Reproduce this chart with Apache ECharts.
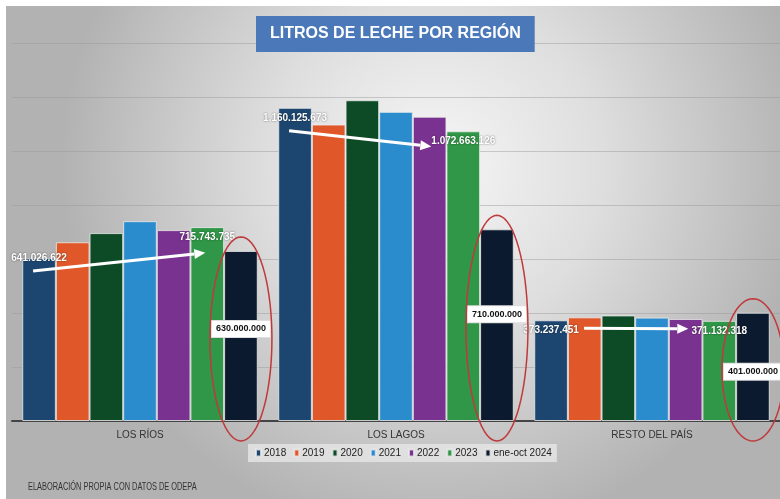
<!DOCTYPE html>
<html>
<head>
<meta charset="utf-8">
<script src="https://cdn.jsdelivr.net/npm/echarts@6/dist/echarts.min.js"></script>
<style>
  html, body { margin: 0; padding: 0; background: #fff; }
  #chart { width: 780px; height: 499px; }
</style>
</head>
<body>
<div id="chart"></div>
<script>
// categorias y años
var regiones = ['LOS RÍOS', 'LOS LAGOS', 'RESTO DEL PAÍS'];
var anios = ['2018', '2019', '2020', '2021', '2022', '2023', 'ene-oct 2024'];

// litros por año
var litros2018 = [604000000, 1160000000, 373000000];
var litros2019 = [662000000, 1098000000, 384000000];
var litros2020 = [696000000, 1188000000, 391000000];
var litros2021 = [740000000, 1145000000, 383000000];
var litros2022 = [707000000, 1127000000, 378000000];
var litros2023 = [718000000, 1073000000, 371000000];
var litros2024 = [630000000, 710000000, 401000000];

// anotaciones de tendencia
var tendInicio = [641026622, 1160125673, 373237451];
var tendFin = [715743735, 1072663126, 371132318];
var tendInicioTxt = ['641.026.622', '1.160.125.673', '373.237.451'];
var tendFinTxt = ['715.743.735', '1.072.663.126', '371.132.318'];
var estimado2024Txt = ['630.000.000', '710.000.000', '401.000.000'];

var serieDatos = [litros2018, litros2019, litros2020, litros2021, litros2022, litros2023, litros2024];
var colores = ['#1c4670', '#e0582a', '#0d4b26', '#2a8ccc', '#7a3290', '#2f9747', '#0b1a2e'];

// donde termina cada flecha respecto a sus etiquetas (px)
var flechaAjuste = [
  { sx: -6, sy: 13, ex: -2, ey: 15, finBarra: 5 },
  { sx: -6, sy: 13, ex: -32, ey: 5, finBarra: 5 },
  { sx: 33, sy: -2, ex: -31, ey: -2, finBarra: 5 }
];
var etiqueta2024Offset = [[0, -7], [0, -11], [0, 5]];

var chart = echarts.init(document.getElementById('chart'));
var catGap = 0.08;

var series = serieDatos.map(function (d, i) {
  var s = {
    name: anios[i],
    type: 'bar',
    data: d,
    barGap: '0%',
    barCategoryGap: (catGap * 100) + '%',
    itemStyle: { color: colores[i], borderColor: 'rgba(235,235,235,0.8)', borderWidth: 1 },
    z: 3
  };
  if (i === 6) {
    s.data = d.map(function (v, k) {
      return {
        value: v,
        label: {
          show: true,
          position: 'inside',
          offset: etiqueta2024Offset[k],
          formatter: estimado2024Txt[k],
          backgroundColor: '#fff',
          color: '#111',
          fontWeight: 'bold',
          fontSize: 9,
          fontFamily: 'Liberation Sans',
          padding: [4, 4, 3, 4],
          borderColor: '#ddd',
          borderWidth: 1
        }
      };
    });
  }
  return s;
});

chart.setOption({
  backgroundColor: '#ffffff',
  animation: false,
  title: {
    text: 'LITROS DE LECHE POR REGIÓN',
    left: 256,
    top: 16,
    padding: [10, 14, 10, 14],
    backgroundColor: '#4a78b8',
    textStyle: { color: '#fff', fontSize: 16, fontWeight: 'bold', fontFamily: 'Liberation Sans' }
  },
  legend: {
    data: anios,
    left: 248,
    top: 444,
    icon: 'rect',
    itemWidth: 5,
    itemHeight: 7,
    itemGap: 7,
    padding: [4, 5, 4, 7],
    backgroundColor: 'rgba(228,228,228,0.85)',
    textStyle: { fontSize: 10, color: '#222', fontFamily: 'Liberation Sans', padding: [0, 0, 0, -2] }
  },
  grid: { left: 12, top: 43, width: 771, height: 378 },
  xAxis: {
    type: 'category',
    data: regiones,
    axisTick: { show: false },
    axisLine: { lineStyle: { color: '#444', width: 2 } },
    axisLabel: { color: '#333', fontSize: 10, margin: 9, fontFamily: 'Liberation Sans' }
  },
  yAxis: {
    type: 'value',
    min: 0,
    max: 1400000000,
    interval: 200000000,
    axisLabel: { show: false },
    axisLine: { show: false },
    axisTick: { show: false },
    splitLine: { lineStyle: { color: 'rgba(150,150,150,0.45)', width: 1 } }
  },
  series: series
});

function xBarra(region, anio) {
  var c = chart.convertToPixel({ xAxisIndex: 0 }, regiones[region]);
  var banda = chart.convertToPixel({ xAxisIndex: 0 }, regiones[1]) - chart.convertToPixel({ xAxisIndex: 0 }, regiones[0]);
  var ancho = banda * (1 - catGap) / anios.length;
  return c - banda * (1 - catGap) / 2 + ancho * (anio + 0.5);
}
function yValor(v) {
  return chart.convertToPixel({ yAxisIndex: 0 }, v);
}

var graficos = [
  {
    type: 'rect', z: -10, silent: true,
    shape: { x: 6, y: 6, width: 780, height: 499 },
    style: {
      fill: new echarts.graphic.RadialGradient(0.55, 0.32, 0.75, [
        { offset: 0, color: '#f6f6f6' },
        { offset: 0.45, color: '#dedede' },
        { offset: 1, color: '#b2b2b2' }
      ])
    }
  },
  {
    type: 'text', x: 28, y: 482, scaleX: 0.74, silent: true,
    style: { text: 'ELABORACIÓN PROPIA CON DATOS DE ODEPA', font: "10px 'Liberation Sans'", fill: '#333' }
  }
];

var base = yValor(0);
for (var r = 0; r < regiones.length; r++) {
  var aj = flechaAjuste[r];
  var lx0 = xBarra(r, 0), ly0 = yValor(tendInicio[r]) + 10;
  var lx1 = xBarra(r, aj.finBarra), ly1 = yValor(tendFin[r]) + 10;
  var x0 = lx0 + aj.sx, y0 = ly0 + aj.sy, x1 = lx1 + aj.ex, y1 = ly1 + aj.ey;
  var ang = Math.atan2(y1 - y0, x1 - x0);
  var largo = 11, medio = 5;
  var bx = x1 - largo * Math.cos(ang), by = y1 - largo * Math.sin(ang);
  graficos.push({
    type: 'line', z: 20, silent: true,
    shape: { x1: x0, y1: y0, x2: bx, y2: by },
    style: { stroke: '#fff', lineWidth: 3 }
  });
  graficos.push({
    type: 'polygon', z: 20, silent: true,
    shape: { points: [[x1, y1], [bx - medio * Math.sin(ang), by + medio * Math.cos(ang)], [bx + medio * Math.sin(ang), by - medio * Math.cos(ang)]] },
    style: { fill: '#fff' }
  });
  [[lx0, ly0, tendInicioTxt[r]], [lx1, ly1, tendFinTxt[r]]].forEach(function (t) {
    graficos.push({
      type: 'text', z: 21, silent: true, x: t[0], y: t[1],
      style: {
        text: t[2], fill: '#fff', font: "bold 10px 'Liberation Sans'",
        align: 'center', verticalAlign: 'middle',
        textShadowColor: 'rgba(0,0,0,0.55)', textShadowBlur: 2
      }
    });
  });
  // elipse roja alrededor de 2024
  var elTop = yValor(litros2024[r]) - 14;
  var elBot = base + 20;
  var ecx = xBarra(r, 6), ecy = (elTop + elBot) / 2, erx = 31, ery = (elBot - elTop) / 2;
  var pts = [];
  for (var k = 0; k < 72; k++) {
    var a = k / 72 * Math.PI * 2;
    pts.push([ecx + erx * Math.cos(a), ecy + ery * Math.sin(a)]);
  }
  graficos.push({
    type: 'polygon', z: 22, silent: true,
    shape: { points: pts },
    style: { fill: 'transparent', stroke: '#c0393b', lineWidth: 1.5 }
  });
}

chart.setOption({ graphic: graficos });
</script>
</body>
</html>
